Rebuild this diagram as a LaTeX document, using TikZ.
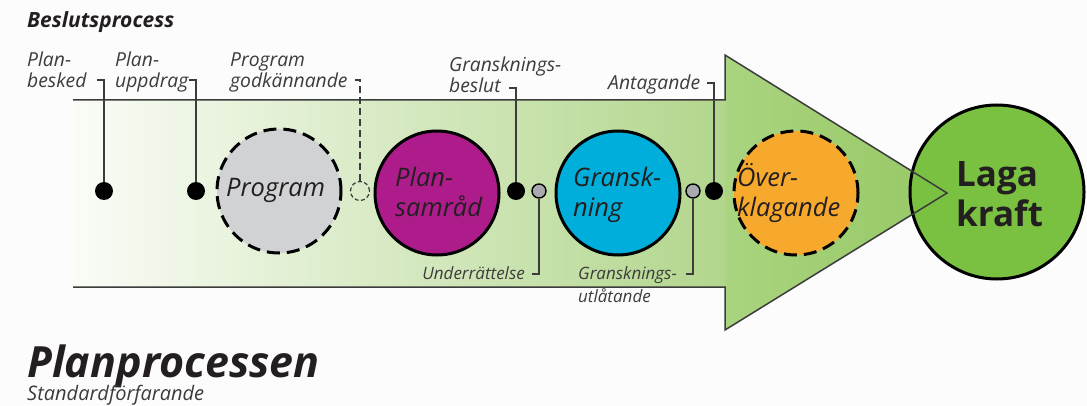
\documentclass[tikz,border=0pt]{standalone}
\usepackage{fontspec}
\setmainfont{Open Sans}
\definecolor{bgc}{RGB}{252,252,252}
\definecolor{outc}{RGB}{60,60,60}
\definecolor{labc}{RGB}{60,60,60}
\definecolor{txtc}{RGB}{35,31,32}
\definecolor{shaftL}{RGB}{250,252,247}
\definecolor{shaftR}{RGB}{178,214,140}
\definecolor{headL}{RGB}{170,212,128}
\definecolor{headR}{RGB}{150,200,100}
\definecolor{progc}{RGB}{209,210,212}
\definecolor{samc}{RGB}{174,28,140}
\definecolor{grac}{RGB}{0,174,219}
\definecolor{overc}{RGB}{247,169,45}
\definecolor{lagac}{RGB}{122,192,65}
\definecolor{gdotc}{RGB}{168,170,175}
\begin{document}
\begin{tikzpicture}[x=1pt,y=-1pt,
  lbl/.style={font=\itshape\fontsize{19.3}{21}\selectfont, text=labc, inner sep=0pt, align=left},
  lbls/.style={font=\itshape\fontsize{17}{23}\selectfont, text=labc, inner sep=0pt, align=left},
  ctext/.style={font=\itshape\fontsize{25.5}{30}\selectfont, text=txtc, inner sep=0pt, align=left},
  bigcirc/.style={circle, minimum size=124, inner sep=0pt, line width=3, draw=black},
  dashcirc/.style={bigcirc, dash pattern=on 13pt off 7pt},
  bdot/.style={circle, fill=black, minimum size=18, inner sep=0pt},
  gdot/.style={circle, fill=gdotc, draw=black, line width=1.4, minimum size=14, inner sep=0pt},
  conn/.style={draw=outc, line width=1.3},
  outl/.style={draw=outc, line width=1.5, line join=miter}]
\useasboundingbox (0,0) rectangle (1087,406);
\fill[bgc] (0,0) rectangle (1087,406);
% arrow body
\shade[left color=shaftL, right color=shaftR] (73,100) rectangle (725.5,287);
\shade[left color=headL, right color=headR] (725,55) -- (947,193) -- (725,330) -- cycle;
% Laga kraft
\node[circle, minimum size=174, inner sep=0pt, fill=lagac, draw=black, line width=3] (laga) at (997,192) {};
\draw[outl] (73,100) -- (725,100) -- (725,55) -- (947,193) -- (725,330) -- (725,287) -- (73,287);
\node[font=\bfseries\fontsize{35}{40}\selectfont, text=txtc, inner sep=0pt, align=left, anchor=base west] (lagatxt) at (956,227) {Laga\\kraft};
% circles
\node[dashcirc, fill=progc] (prog) at (279,191) {};
\node[ctext, anchor=base west] (progtxt) at (226,197) {Program};
\node[bigcirc, fill=samc] (sam) at (437,193) {};
\node[ctext, anchor=base west] (samtxt) at (395,217) {Plan-\\samråd};
\node[bigcirc, fill=grac] (gra) at (618,193) {};
\node[ctext, anchor=base west] (gratxt) at (573,217) {Gransk-\\ning};
\node[dashcirc, fill=overc] (over) at (796,193) {};
\node[ctext, anchor=base west] (overtxt) at (737,217) {Över-\\klagande};
% dots
\node[bdot] (d1) at (104,191) {};
\node[bdot] (d2) at (196,191) {};
\node[circle, draw=outc, line width=1.2, dash pattern=on 4pt off 2.5pt, minimum size=19, inner sep=0pt] (d3) at (360,191) {};
\node[bdot] (d4) at (516,191) {};
\node[gdot] (g1) at (539,191) {};
\node[gdot] (g2) at (693,191) {};
\node[bdot] (d5) at (714,191) {};
% tick coordinates
\coordinate (t1) at (104,80);
\coordinate (t2) at (196,80);
\coordinate (t3) at (360,80);
\coordinate (t4) at (516,88);
\coordinate (t5) at (714,83);
\coordinate (u1) at (539,274);
\coordinate (u2) at (693,274);
\draw[conn] (d1) -- (t1) -- ++(-7,0);
\draw[conn] (d2) -- (t2) -- ++(-7,0);
\draw[conn, dash pattern=on 7pt off 4pt] (d3) -- (t3) -- ++(-7,0);
\draw[conn] (d4) -- (t4) -- ++(-7,0);
\draw[conn] (d5) -- (t5) -- ++(-7,0);
\draw[conn] (g1) -- (u1) -- ++(-7,0);
\draw[conn] (g2) -- (u2) -- ++(-7,0);
% labels
\node[font=\bfseries\itshape\fontsize{21}{24}\selectfont, text=txtc, inner sep=0pt, anchor=base west] (beslut) at (27,28) {Beslutsprocess};
\node[lbl, anchor=base west] (l1) at (27,88) {Plan-\\besked};
\node[lbl, anchor=base west] (l2) at (115,88) {Plan-\\uppdrag};
\node[lbl, anchor=base west] (l3) at (230,88) {Program\\godkännande};
\node[lbl, anchor=base west] (l4) at (449,93) {Gransknings-\\beslut};
\node[lbl, anchor=base west] (l5) at (608,90) {Antagande};
\node[lbls, anchor=base east] (l6) at (525,279) {Underrättelse};
\node[lbls, anchor=base west] (l7) at (578,302) {Gransknings-\\utlåtande};
\node[font=\bfseries\itshape\fontsize{43}{46}\selectfont, text=txtc, inner sep=0pt, anchor=base west] (title) at (27,377) {Planprocessen};
\node[font=\itshape\fontsize{20}{22}\selectfont, text=labc, inner sep=0pt, anchor=base west] (sub) at (27,400) {Standardförfarande};
\end{tikzpicture}
\end{document}
